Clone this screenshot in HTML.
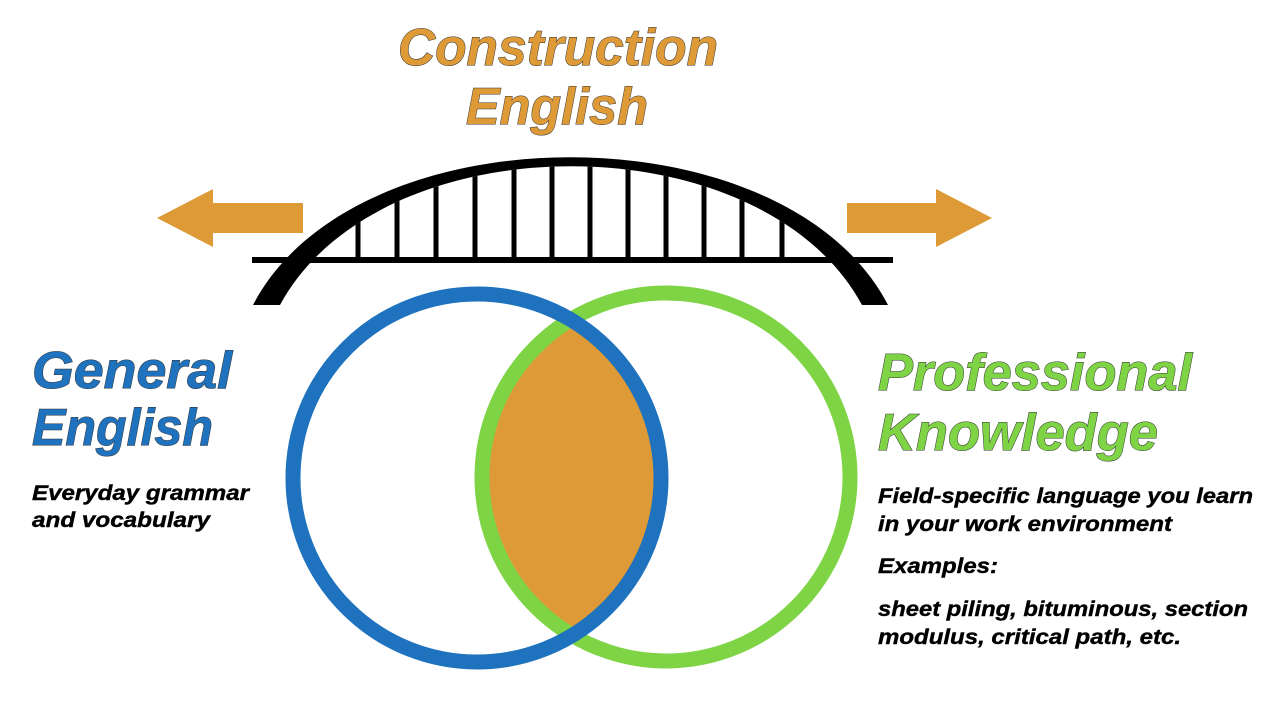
<!DOCTYPE html>
<html><head><meta charset="utf-8"><style>
html,body{margin:0;padding:0;background:#fff;}
svg{display:block;}
.h{font-family:"Liberation Sans",sans-serif;font-weight:bold;font-style:italic;font-size:52px;stroke:#333;stroke-width:1px;paint-order:stroke;}
.b{font-family:"Liberation Sans",sans-serif;font-weight:bold;font-style:italic;font-size:21px;fill:#000;stroke:#000;stroke-width:0.4px;}
</style></head><body>
<svg width="1280" height="720" viewBox="0 0 1280 720" xmlns="http://www.w3.org/2000/svg">
<defs>
<clipPath id="inner"><path d="M280,305 C380,120 762,120 862,305 Z"/></clipPath>
<clipPath id="blueC"><circle cx="477" cy="478" r="184"/></clipPath>
</defs>
<polygon points="157,218 213,189 213,203 303,203 303,233 213,233 213,247" fill="#DE9A36"/>
<polygon points="992,218 936,189 936,203 847,203 847,233 936,233 936,247" fill="#DE9A36"/>
<g clip-path="url(#inner)" stroke="#000" stroke-width="5">
<line x1="358" y1="100" x2="358" y2="260"/><line x1="397" y1="100" x2="397" y2="260"/>
<line x1="436" y1="100" x2="436" y2="260"/><line x1="475" y1="100" x2="475" y2="260"/>
<line x1="514" y1="100" x2="514" y2="260"/><line x1="552" y1="100" x2="552" y2="260"/>
<line x1="590" y1="100" x2="590" y2="260"/><line x1="628" y1="100" x2="628" y2="260"/>
<line x1="666" y1="100" x2="666" y2="260"/><line x1="704" y1="100" x2="704" y2="260"/>
<line x1="742" y1="100" x2="742" y2="260"/><line x1="782" y1="100" x2="782" y2="260"/>
</g>
<line x1="252" y1="260" x2="893" y2="260" stroke="#000" stroke-width="6"/>
<path d="M253,305 C355,108 786,108 888,305 L862,305 C762,120 380,120 280,305 Z" fill="#000"/>
<circle cx="666" cy="477" r="184" fill="#DE9A36" clip-path="url(#blueC)"/>
<circle cx="666" cy="477" r="184" fill="none" stroke="#7ED444" stroke-width="15"/>
<circle cx="477" cy="478" r="184" fill="none" stroke="#1F72BE" stroke-width="15"/>
<text class="h" x="398" y="65" fill="#DE9A36" textLength="320" lengthAdjust="spacingAndGlyphs">Construction</text>
<text class="h" x="466" y="124" fill="#DE9A36" textLength="182" lengthAdjust="spacingAndGlyphs">English</text>
<text class="h" x="32" y="388" fill="#1F72BE" textLength="200" lengthAdjust="spacingAndGlyphs">General</text>
<text class="h" x="32" y="445" fill="#1F72BE" textLength="181" lengthAdjust="spacingAndGlyphs">English</text>
<text class="h" x="878" y="390" fill="#7ED444" textLength="314" lengthAdjust="spacingAndGlyphs">Professional</text>
<text class="h" x="878" y="450" fill="#7ED444" textLength="280" lengthAdjust="spacingAndGlyphs">Knowledge</text>
<text class="b" x="32" y="500" textLength="217" lengthAdjust="spacingAndGlyphs">Everyday grammar</text>
<text class="b" x="32" y="527" textLength="178" lengthAdjust="spacingAndGlyphs">and vocabulary</text>
<text class="b" x="878" y="503" textLength="375" lengthAdjust="spacingAndGlyphs">Field-specific language you learn</text>
<text class="b" x="878" y="531" textLength="294" lengthAdjust="spacingAndGlyphs">in your work environment</text>
<text class="b" x="878" y="573" textLength="120" lengthAdjust="spacingAndGlyphs">Examples:</text>
<text class="b" x="878" y="616" textLength="370" lengthAdjust="spacingAndGlyphs">sheet piling, bituminous, section</text>
<text class="b" x="878" y="644" textLength="303" lengthAdjust="spacingAndGlyphs">modulus, critical path, etc.</text>
</svg>
</body></html>
